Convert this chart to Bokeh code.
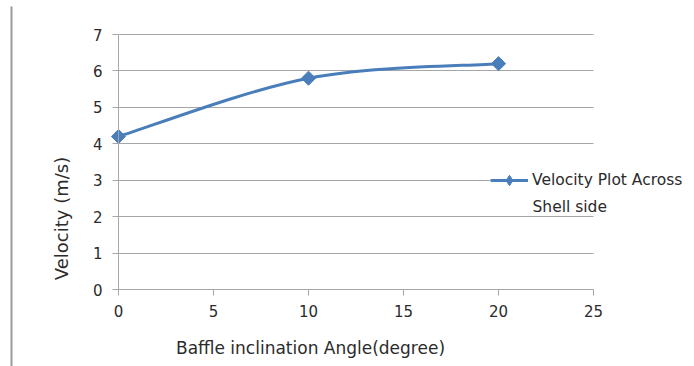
from bokeh.plotting import figure
from bokeh.models import (Range1d, FixedTicker, Label, Legend, LegendItem,
                          BoxAnnotation, Grid)
from bokeh.embed import file_html
from bokeh.resources import INLINE
import math

# ---- data ----
angles = [0, 10, 20]
velocity = [4.2, 5.8, 6.2]
series_name = "Velocity Plot Across"
series_name_2 = "Shell side"
x_title = "Baffle inclination Angle(degree)"
y_title = "Velocity (m/s)"
x_ticks = [0, 5, 10, 15, 20, 25]
y_ticks = [0, 1, 2, 3, 4, 5, 6, 7]

FONT = "DejaVu Sans"
TXT = "#2b2b2b"
GRID = "#a6a6a6"
BLUE = "#4a7ebb"

W, H = 694, 366
# plot area in pixels: x 0..25 -> 118..593, y 0..7 -> 289..34
PX_L, PX_R, PX_T, PX_B = 118, 593, 34, 289
sx = (PX_R - PX_L) / (x_ticks[-1] - x_ticks[0])
sy = (PX_B - PX_T) / (y_ticks[-1] - y_ticks[0])
xr = Range1d(x_ticks[0] - PX_L / sx, x_ticks[-1] + (W - PX_R) / sx)
yr = Range1d(y_ticks[0] - (H - PX_B) / sy, y_ticks[-1] + PX_T / sy)

p = figure(width=W, height=H, output_backend="svg", toolbar_location=None,
           x_range=xr, y_range=yr, min_border=0)
p.outline_line_color = None
p.background_fill_color = "white"
p.border_fill_color = "white"

p.xgrid.visible = False
if "cross_bounds" in Grid.properties():
    p.ygrid.ticker = FixedTicker(ticks=y_ticks)
    p.ygrid.grid_line_color = GRID
    p.ygrid.grid_line_width = 1
    p.ygrid.cross_bounds = (x_ticks[0], x_ticks[-1])
else:
    p.ygrid.visible = False
    p.segment(x0=[x_ticks[0]] * len(y_ticks), x1=[x_ticks[-1]] * len(y_ticks),
              y0=y_ticks, y1=y_ticks, line_color=GRID, line_width=1)

for ax, ticks in ((p.xaxis[0], x_ticks), (p.yaxis[0], y_ticks)):
    ax.ticker = FixedTicker(ticks=ticks)
    ax.fixed_location = 0
    ax.bounds = (ticks[0], ticks[-1])
    ax.axis_line_color = GRID
    ax.major_tick_line_color = GRID
    ax.major_tick_out = 6
    ax.major_tick_in = 0
    ax.minor_tick_out = 0
    ax.minor_tick_in = 0
    ax.major_label_text_font = FONT
    ax.major_label_text_font_size = "15px"
    ax.major_label_text_color = TXT
p.xaxis.major_label_standoff = 9
p.yaxis.major_label_standoff = 10

# smoothed line (Catmull-Rom style bezier, like a spreadsheet's smoothed line)
n = len(angles)
x0s, y0s, x1s, y1s, cx0, cy0, cx1, cy1 = [], [], [], [], [], [], [], []
for i in range(n - 1):
    pa = (angles[max(i - 1, 0)], velocity[max(i - 1, 0)])
    pb = (angles[i], velocity[i])
    pc = (angles[i + 1], velocity[i + 1])
    pd = (angles[min(i + 2, n - 1)], velocity[min(i + 2, n - 1)])
    x0s.append(pb[0]); y0s.append(pb[1]); x1s.append(pc[0]); y1s.append(pc[1])
    cx0.append(pb[0] + (pc[0] - pa[0]) / 6.0)
    cy0.append(pb[1] + (pc[1] - pa[1]) / 6.0)
    cx1.append(pc[0] - (pd[0] - pb[0]) / 6.0)
    cy1.append(pc[1] - (pd[1] - pb[1]) / 6.0)
p.bezier(x0=x0s, y0=y0s, x1=x1s, y1=y1s, cx0=cx0, cy0=cy0, cx1=cx1, cy1=cy1,
         line_color=BLUE, line_width=3)

# legend sample renderers: a one-point line (draws nothing) and a small
# diamond hidden under the first data marker
leg_line = p.line(angles[:1], velocity[:1], line_color=BLUE, line_width=3)
leg_pt = p.scatter(angles[:1], velocity[:1], marker="diamond", size=8,
                   fill_color=BLUE, line_color=BLUE)
p.scatter(angles, velocity, marker="square", angle=math.pi / 4, size=10,
          fill_color=BLUE, line_color=BLUE)

legend = Legend(items=[LegendItem(label=series_name, renderers=[leg_line, leg_pt])],
                location=(490, H - 180 - 13), orientation="vertical",
                glyph_width=38, glyph_height=26, label_height=26,
                label_standoff=4, padding=0, margin=0, spacing=0,
                border_line_color=None, background_fill_color="white",
                background_fill_alpha=1,
                label_text_font=FONT, label_text_font_size="15.5px",
                label_text_color=TXT)
p.add_layout(legend, "center")

p.add_layout(Label(x=532, y=H - 206, x_units="screen", y_units="screen",
                   text=series_name_2, text_font=FONT, text_font_size="15.5px",
                   text_color=TXT, text_baseline="middle", text_align="left"))

p.add_layout(Label(x=310, y=H - 347, x_units="screen", y_units="screen",
                   text=x_title, text_font=FONT, text_font_size="17px",
                   text_color=TXT, text_baseline="middle", text_align="center"))
p.add_layout(Label(x=61, y=H - 218, x_units="screen", y_units="screen",
                   text=y_title, text_font=FONT, text_font_size="18px",
                   text_color=TXT, text_baseline="middle", text_align="center",
                   angle=math.pi / 2))

p.add_layout(BoxAnnotation(left=10, right=12, bottom=0, top=H - 6,
                           left_units="screen", right_units="screen",
                           bottom_units="screen", top_units="screen",
                           fill_color="#9a9a9a", fill_alpha=1, line_color=None))

open("out.html", "w").write(file_html(p, INLINE))
